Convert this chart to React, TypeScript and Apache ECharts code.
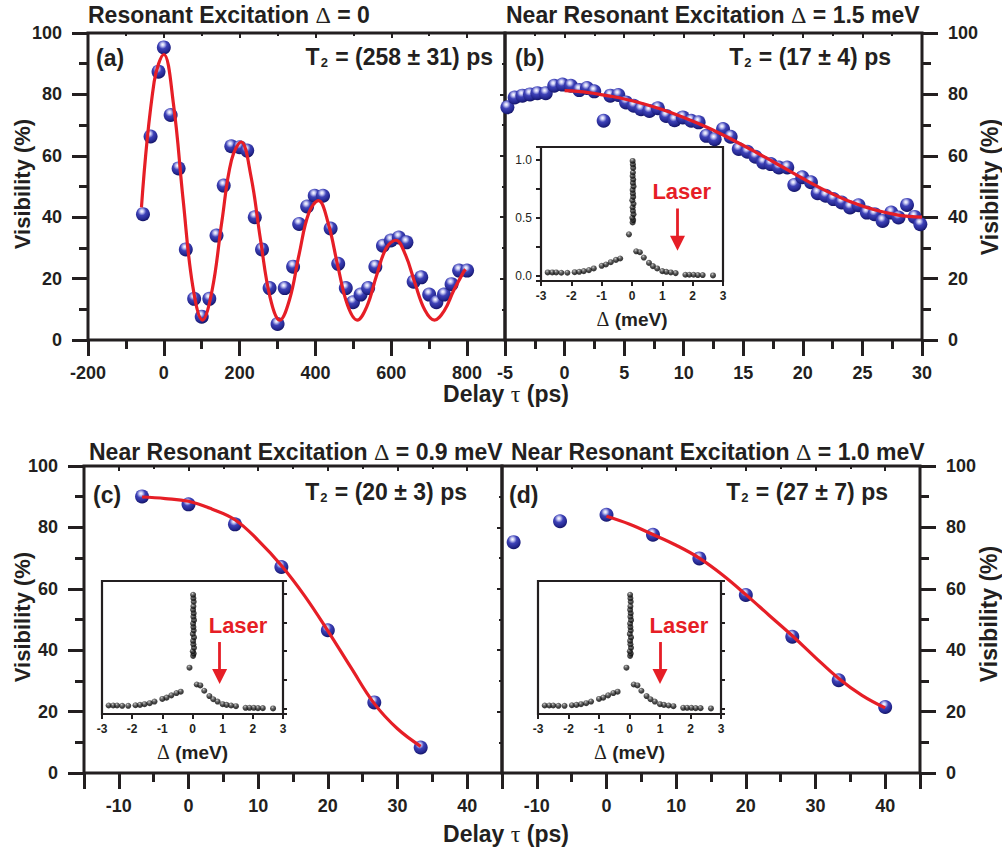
import React, { useEffect, useRef } from 'react';
import * as echarts from 'echarts';

const FONT = '"Liberation Sans", Arial, Helvetica, sans-serif';
const SERIF = '"Liberation Serif", "Times New Roman", serif';
const INK = '#231f20';
const RED = '#e61e26';

// ---- Panel (a): resonant excitation, delay (ps) vs visibility (%)
const aDelay = [-55, -35, -14, 0, 18, 39, 58, 80, 100, 120, 139, 158, 178, 200, 220, 240, 259, 279, 300, 319, 341, 357, 378, 398, 420, 440, 460, 480, 499, 519, 539, 558, 578, 599, 620, 640, 659, 679, 700, 719, 739, 759, 779, 800];
const aVis = [41.0, 66.3, 87.4, 95.3, 73.3, 55.9, 29.5, 13.4, 7.6, 13.4, 34.0, 50.3, 63.1, 62.8, 61.7, 40.0, 29.5, 16.9, 5.2, 16.9, 23.9, 37.8, 43.5, 47.0, 47.0, 36.3, 24.8, 16.9, 12.3, 14.8, 16.9, 23.9, 30.7, 32.4, 33.4, 31.8, 19.0, 20.4, 14.8, 12.3, 14.8, 18.2, 22.6, 22.6];
const aFitDelay = [-59, -25.5, 0, 25.5, 51, 76.5, 102, 127.5, 153, 178.5, 204, 229.5, 255, 280.5, 306, 331.5, 357, 382.5, 408, 433.5, 459, 484.5, 510, 535.5, 561, 586.5, 612, 637.5, 663, 688.5, 714, 739.5, 765, 790.5, 796];
const aFitVis = [43.2, 84.1, 93.0, 76.8, 45.6, 17.4, 6.5, 16.3, 38.5, 58.6, 64.5, 53.6, 32.7, 13.8, 6.5, 13.1, 28.0, 41.4, 45.4, 38.1, 24.1, 11.4, 6.5, 10.9, 20.9, 29.9, 32.5, 27.7, 18.3, 9.8, 6.5, 9.5, 16.2, 22.1, 23.0];

// ---- Panel (b): detuning 1.5 meV
const bDelay = [-4.8, -4.19, -3.54, -2.9, -2.28, -1.58, -0.87, -0.17, 0.53, 1.23, 1.88, 2.49, 3.28, 3.84, 4.51, 5.16, 5.81, 6.42, 7.12, 7.83, 8.53, 9.23, 9.93, 10.63, 11.25, 11.9, 12.6, 13.3, 13.94, 14.62, 15.35, 16.02, 16.67, 17.31, 17.99, 18.69, 19.28, 19.95, 20.68, 21.24, 21.92, 22.56, 23.26, 23.96, 24.67, 25.37, 26.01, 26.69, 27.42, 28.03, 28.74, 29.38, 29.86];
const bVis = [75.8, 79.0, 79.6, 80.0, 80.4, 80.4, 82.8, 83.2, 82.8, 81.4, 82.1, 81.0, 71.4, 79.6, 79.8, 77.4, 76.3, 75.2, 74.6, 75.5, 73.0, 71.6, 72.5, 71.4, 70.9, 66.5, 65.4, 68.7, 66.2, 62.2, 61.3, 59.7, 57.8, 57.3, 56.2, 56.2, 50.5, 53.0, 51.4, 47.8, 47.0, 45.9, 44.8, 43.2, 43.9, 41.5, 41.0, 38.8, 41.5, 39.9, 44.0, 40.1, 37.7];
const bFitDelay = [0, 2, 4, 6, 8, 10, 12, 14, 16, 18, 20, 22, 24, 26, 28, 30];
const bFitVis = [81.2, 80.6, 79.3, 77.6, 75.3, 72.5, 69.2, 65.4, 61.3, 57.0, 52.6, 48.5, 45.0, 42.4, 40.7, 40.0];

// ---- Panel (c): detuning 0.9 meV
const cDelay = [-6.67, 0, 6.67, 13.33, 20, 26.67, 33.33];
const cVis = [90.1, 87.5, 81.0, 67.1, 46.5, 23.0, 8.3];
const cFitDelay = [-6.67, -3.33, 0, 3.33, 6.67, 10, 13.33, 16.67, 20, 23.33, 26.67, 30, 33.33];
const cFitVis = [89.9, 89.4, 88.5, 86.0, 82.5, 75.8, 67.6, 57.7, 46.3, 34.3, 22.6, 14.4, 8.7];

// ---- Panel (d): detuning 1.0 meV
const dDelay = [-13.33, -6.67, 0, 6.67, 13.33, 20, 26.67, 33.33, 40];
const dVis = [75.2, 82.0, 84.1, 77.6, 69.9, 58.0, 44.4, 30.2, 21.5];
const dFitDelay = [0, 3.33, 6.67, 10, 13.33, 16.67, 20, 23.33, 26.67, 30, 33.33, 36.67, 40];
const dFitVis = [83.6, 81.0, 77.7, 74.2, 70.0, 64.5, 58.1, 51.4, 44.7, 37.6, 30.8, 25.3, 21.2];

// ---- Inset spectrum (same in all insets)
const specDelta = [-2.78, -2.63, -2.5, -2.33, -2.13, -1.89, -1.74, -1.59, -1.42, -1.26, -1.0, -0.86, -0.7, -0.53, -0.39, -0.1, 0.02, 0.04, 0.01, 0.05, 0.03, 0.02, 0.05, 0.01, 0.04, 0.03, 0.02, 0.05, 0.03, 0.04, 0.02, 0.03, 0.04, 0.03, 0.02, 0.14, 0.26, 0.39, 0.56, 0.69, 0.83, 1.0, 1.13, 1.28, 1.44, 1.76, 1.89, 2.03, 2.17, 2.33, 2.67];
const specIntensity = [0.029, 0.029, 0.029, 0.026, 0.026, 0.031, 0.034, 0.04, 0.049, 0.063, 0.086, 0.097, 0.117, 0.137, 0.149, 0.357, 0.46, 0.48, 0.5, 0.53, 0.56, 0.59, 0.62, 0.65, 0.68, 0.71, 0.74, 0.77, 0.8, 0.83, 0.86, 0.89, 0.93, 0.96, 0.99, 0.211, 0.203, 0.157, 0.111, 0.083, 0.063, 0.04, 0.034, 0.029, 0.023, 0.009, 0.009, 0.009, 0.006, 0.006, 0.003];

// laser detuning for insets b, c, d
const laserDelta = [1.5, 0.9, 1.0];
const laserLabelDelta = [1.64, 1.51, 1.62];
const laserLabelLevel = 0.725;
const arrowTop = 0.58;
const arrowEnd = 0.28;

const titles = ['Resonant Excitation {s|Δ} = 0', 'Near Resonant Excitation {s|Δ} = 1.5 meV', 'Near Resonant Excitation {s|Δ} = 0.9 meV', 'Near Resonant Excitation {s|Δ} = 1.0 meV'];
const panelTags = ['(a)', '(b)', '(c)', '(d)'];
const t2Values = ['(258 ± 31) ps', '(17 ± 4) ps', '(20 ± 3) ps', '(27 ± 7) ps'];

const pairs = (xs: number[], ys: number[]) => xs.map((x, i) => [x, ys[i]]);

const blueBall = () =>
  new echarts.graphic.RadialGradient(0.42, 0.3, 0.72, [
    { offset: 0, color: '#ffffff' },
    { offset: 0.16, color: '#c9cbf4' },
    { offset: 0.42, color: '#3e42b8' },
    { offset: 0.78, color: '#24278f' },
    { offset: 1, color: '#111160' },
  ]);
const blackBall = () =>
  new echarts.graphic.RadialGradient(0.4, 0.3, 0.75, [
    { offset: 0, color: '#c8c8c8' },
    { offset: 0.25, color: '#5a5a5a' },
    { offset: 0.6, color: '#141414' },
    { offset: 1, color: '#000000' },
  ]);

const tickStyle = { color: INK, width: 3 };
const labelStyle = { color: INK, fontSize: 18, fontWeight: 'bold', fontFamily: FONT };

function buildOption() {
  const grid = [
    { left: 88, top: 33, width: 417, height: 307 },
    { left: 505, top: 33, width: 417, height: 307 },
    { left: 84, top: 466, width: 418, height: 307 },
    { left: 502, top: 466, width: 418, height: 307 },
    { left: 541, top: 147, width: 182, height: 134, inset: true },
    { left: 102, top: 581, width: 181, height: 133, inset: true },
    { left: 538, top: 581, width: 183, height: 133, inset: true },
  ].map((g) => ({
    left: g.left,
    top: g.top,
    width: g.width,
    height: g.height,
    show: true,
    borderColor: INK,
    borderWidth: g.inset ? 2.2 : 3,
    backgroundColor: g.inset ? '#ffffff' : 'transparent',
    containLabel: false,
  }));

  const xAxis: any[] = [];
  const yAxis: any[] = [];

  const mainX = (gridIndex: number, scale: any, formatter: (v: number) => string) => {
    xAxis.push({
      type: 'value', gridIndex, position: 'bottom', ...scale,
      axisLine: { show: false, onZero: false },
      axisTick: { show: true, length: 16, lineStyle: tickStyle },
      minorTick: { show: true, splitNumber: 2, length: 9, lineStyle: tickStyle },
      axisLabel: { ...labelStyle, margin: 24, formatter },
      splitLine: { show: false }, minorSplitLine: { show: false },
    });
    xAxis.push({
      type: 'value', gridIndex, position: 'top', ...scale,
      axisLine: { show: false, onZero: false },
      axisTick: { show: true, inside: true, length: 5, lineStyle: { color: INK, width: 2 } },
      minorTick: { show: true, splitNumber: 2, length: 3, lineStyle: { color: INK, width: 2 } },
      axisLabel: { show: false },
      splitLine: { show: false }, minorSplitLine: { show: false },
    });
  };
  const visScale = { min: 0, max: 100, interval: 20 };
  const labelY = (gridIndex: number, position: string) => {
    yAxis.push({
      type: 'value', gridIndex, position, ...visScale,
      axisLine: { show: false, onZero: false },
      axisTick: { show: true, length: 16, lineStyle: tickStyle },
      minorTick: { show: true, splitNumber: 2, length: 9, lineStyle: tickStyle },
      axisLabel: { ...labelStyle, margin: 26 },
      splitLine: { show: false }, minorSplitLine: { show: false },
    });
  };
  const innerY = (gridIndex: number, position: string) => {
    yAxis.push({
      type: 'value', gridIndex, position, ...visScale,
      axisLine: { show: false, onZero: false },
      axisTick: { show: true, inside: true, length: 5, lineStyle: { color: INK, width: 2 } },
      minorTick: { show: true, splitNumber: 2, length: 3, lineStyle: { color: INK, width: 2 } },
      axisLabel: { show: false },
      splitLine: { show: false }, minorSplitLine: { show: false },
    });
  };

  const fmtA = (v: number) => (v % 200 === 0 && v <= 800 ? String(v) : '');
  const fmtB = (v: number) => String(v);
  const fmtCD = (v: number) => (Math.abs(v % 10) < 1e-9 && v > -15 && v < 45 ? String(v) : '');
  const cdScale = { min: -15, max: 45, minInterval: 10, maxInterval: 10 };

  mainX(0, { min: -200, max: 900, interval: 200 }, fmtA); // x0, x1
  mainX(1, { min: -5, max: 30, interval: 5 }, fmtB); // x2, x3
  mainX(2, cdScale, fmtCD); // x4, x5
  mainX(3, cdScale, fmtCD); // x6, x7

  labelY(0, 'left'); // y0
  innerY(0, 'right'); // y1
  labelY(1, 'right'); // y2
  labelY(2, 'left'); // y3
  innerY(2, 'right'); // y4
  labelY(3, 'right'); // y5

  // inset axes
  [4, 5, 6].forEach((g) => {
    xAxis.push({
      type: 'value', gridIndex: g, position: 'bottom', min: -3, max: 3, interval: 1,
      axisLine: { show: false, onZero: false },
      axisTick: { show: true, length: 5, lineStyle: { color: INK, width: 2 } },
      axisLabel: { color: INK, fontSize: 12, fontWeight: 'bold', fontFamily: FONT, margin: 9 },
      splitLine: { show: false },
      name: '{d|Δ} (meV)',
      nameLocation: 'middle',
      nameGap: 28,
      nameTextStyle: {
        color: INK, fontSize: 19, fontWeight: 'bold', fontFamily: FONT,
        rich: { d: { fontFamily: SERIF, fontWeight: 'normal', fontSize: 20, color: INK } },
      },
    });
  });
  const specScale = { min: -0.045, max: 1.11, minInterval: 0.25, maxInterval: 0.25 };
  yAxis.push({
    type: 'value', gridIndex: 4, position: 'left', ...specScale,
    axisLine: { show: false, onZero: false },
    axisTick: { show: true, length: 5, lineStyle: { color: INK, width: 2 } },
    axisLabel: {
      color: INK, fontSize: 12, fontFamily: FONT, margin: 9,
      formatter: (v: number) => {
        if (Math.abs(v) < 1e-6) return '0.0';
        if (Math.abs(v - 0.5) < 1e-6) return '0.5';
        if (Math.abs(v - 1) < 1e-6) return '1.0';
        return '';
      },
    },
    splitLine: { show: false },
  }); // y6
  [5, 6].forEach((g) => {
    yAxis.push({
      type: 'value', gridIndex: g, position: 'right', ...specScale,
      axisLine: { show: false, onZero: false },
      axisTick: { show: true, length: 4, lineStyle: { color: INK, width: 2 } },
      axisLabel: { show: false },
      splitLine: { show: false },
    });
  }); // y7, y8

  const panels = [
    { x: 0, y: 0, dots: pairs(aDelay, aVis), fit: pairs(aFitDelay, aFitVis) },
    { x: 2, y: 2, dots: pairs(bDelay, bVis), fit: pairs(bFitDelay, bFitVis) },
    { x: 4, y: 3, dots: pairs(cDelay, cVis), fit: pairs(cFitDelay, cFitVis) },
    { x: 6, y: 5, dots: pairs(dDelay, dVis), fit: pairs(dFitDelay, dFitVis) },
  ];
  const series: any[] = [];
  panels.forEach((p) => {
    series.push({
      type: 'scatter', xAxisIndex: p.x, yAxisIndex: p.y, data: p.dots,
      symbolSize: 14, itemStyle: { color: blueBall(), opacity: 1 }, z: 3,
    });
    series.push({
      type: 'line', xAxisIndex: p.x, yAxisIndex: p.y, data: p.fit,
      smooth: 0.4, showSymbol: false, symbol: 'none',
      lineStyle: { color: RED, width: 3.2 }, z: 4,
    });
  });
  const insets = [
    { x: 8, y: 6 },
    { x: 9, y: 7 },
    { x: 10, y: 8 },
  ];
  insets.forEach((ins, i) => {
    series.push({
      type: 'scatter', xAxisIndex: ins.x, yAxisIndex: ins.y, data: pairs(specDelta, specIntensity),
      symbolSize: 6, itemStyle: { color: blackBall() }, z: 5,
    });
    series.push({
      type: 'scatter', xAxisIndex: ins.x, yAxisIndex: ins.y,
      data: [[laserLabelDelta[i], laserLabelLevel]],
      symbolSize: 1, itemStyle: { color: 'rgba(255,255,255,0)' }, z: 6,
      label: {
        show: true, position: 'inside', formatter: 'Laser',
        color: RED, fontSize: 22, fontWeight: 'bold', fontFamily: FONT,
        textBorderWidth: 0, textBorderColor: 'transparent', opacity: 1,
      },
    });
    series.push({
      type: 'line', xAxisIndex: ins.x, yAxisIndex: ins.y, data: [],
      color: RED, z: 6,
      markLine: {
        silent: true,
        symbol: ['none', 'triangle'],
        symbolSize: 15,
        itemStyle: { color: RED, opacity: 1 },
        lineStyle: { color: RED, width: 2.8, type: 'solid', opacity: 1 },
        label: { show: false },
        emphasis: { disabled: true },
        data: [[{ coord: [laserDelta[i], arrowTop] }, { coord: [laserDelta[i], arrowEnd] }]],
      },
    });
  });

  const bold = (size: number) => ({ fill: INK, fontSize: size, fontWeight: 'bold', fontFamily: FONT });
  const serifRich = (size: number) => ({ s: { fontFamily: SERIF, fontWeight: 'normal', fontSize: size, fill: INK, color: INK } });
  const txt = (x: number, y: number, text: string, size: number, align: string, rich?: any, rotation = 0) => ({
    type: 'text', x, y, rotation, z: 10,
    style: {
      text, ...bold(size), align, textAlign: align, verticalAlign: 'middle', textVerticalAlign: 'middle',
      rich: rich || {},
    },
  });
  const t2Rich = {
    sub: { fontSize: 13, fontWeight: 'bold', fontFamily: FONT, fill: INK, verticalAlign: 'bottom', padding: [0, 1, 0, 1] },
  };
  const graphic = [
    txt(88, 15, titles[0], 23, 'left', serifRich(24)),
    txt(506, 15, titles[1], 23, 'left', serifRich(24)),
    txt(89, 452, titles[2], 23, 'left', serifRich(24)),
    txt(511, 452, titles[3], 23, 'left', serifRich(24)),
    txt(96, 58, panelTags[0], 23, 'left'),
    txt(515, 58, panelTags[1], 23, 'left'),
    txt(93, 495, panelTags[2], 23, 'left'),
    txt(509, 495, panelTags[3], 23, 'left'),
    txt(493, 57, 'T{sub|2} = ' + t2Values[0], 23, 'right', t2Rich),
    txt(891, 57, 'T{sub|2} = ' + t2Values[1], 23, 'right', t2Rich),
    txt(467, 492, 'T{sub|2} = ' + t2Values[2], 23, 'right', t2Rich),
    txt(888, 492, 'T{sub|2} = ' + t2Values[3], 23, 'right', t2Rich),
    txt(506, 394, 'Delay {s|τ} (ps)', 23, 'center', serifRich(24)),
    txt(506, 834, 'Delay {s|τ} (ps)', 23, 'center', serifRich(24)),
    txt(22, 184, 'Visibility (%)', 22, 'center', undefined, Math.PI / 2),
    txt(22, 617, 'Visibility (%)', 22, 'center', undefined, Math.PI / 2),
    txt(990, 187, 'Visibility (%)', 23, 'center', undefined, Math.PI / 2),
    txt(989, 614, 'Visibility (%)', 23, 'center', undefined, Math.PI / 2),
  ];

  return {
    animation: false,
    backgroundColor: '#ffffff',
    grid,
    xAxis,
    yAxis,
    series,
    graphic,
  };
}

export default function App() {
  const ref = useRef<HTMLDivElement>(null);
  useEffect(() => {
    document.body.style.margin = '0';
    if (!ref.current) return;
    const chart = echarts.init(ref.current, undefined, { renderer: 'svg' });
    chart.setOption(buildOption() as any);
    return () => chart.dispose();
  }, []);
  return <div ref={ref} style={{ width: 1002, height: 851 }} />;
}
